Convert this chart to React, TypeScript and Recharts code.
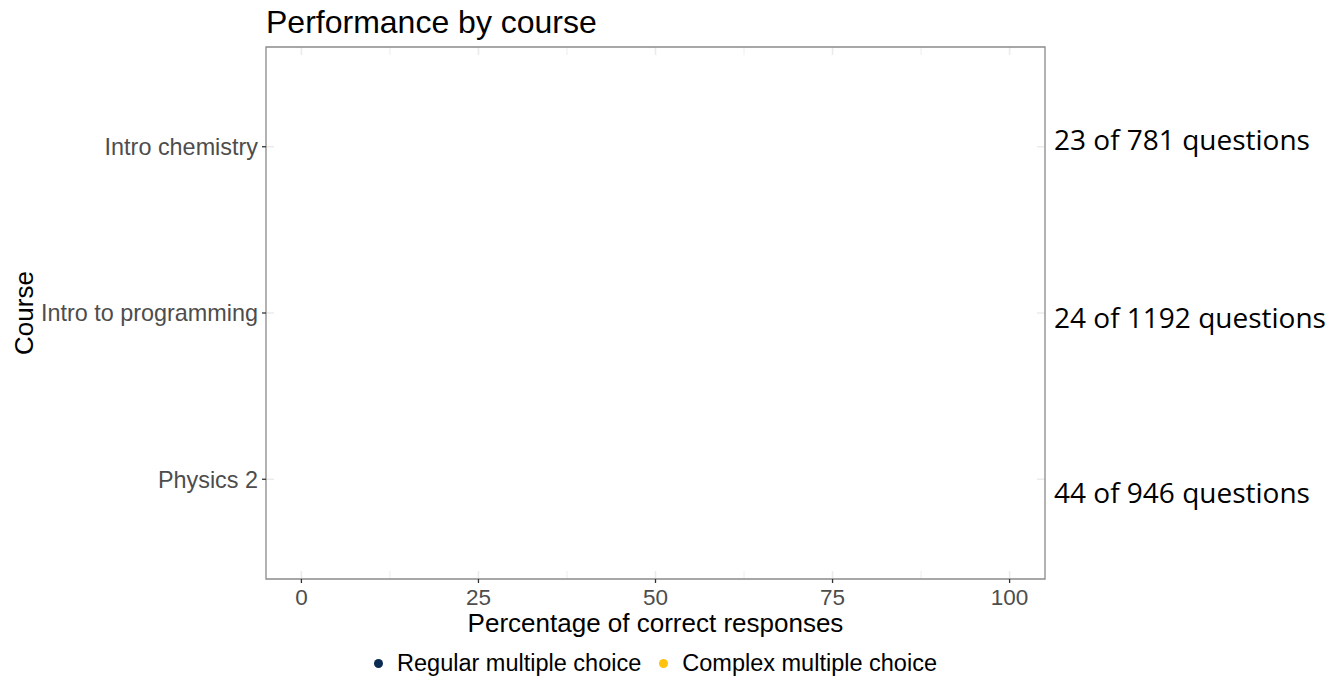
import React from 'react';
import {
  ComposedChart,
  Scatter,
  XAxis,
  YAxis,
  CartesianGrid,
  ReferenceArea,
} from 'recharts';

// courses, top to bottom
const courses = ['Intro chemistry', 'Intro to programming', 'Physics 2'];
const courseIndex = [0, 1, 2];
// questions per course shown on the right
const complexCounts = [23, 24, 44];
const totalCounts = [781, 1192, 946];
// percentage ticks
const xTicks = [0, 25, 50, 75, 100];
const xMinorTicks = [12.5, 37.5, 62.5, 87.5];
// no points are drawn in the source figure
const regularPoints: { pct: number; course: number }[] = [];
const complexPoints: { pct: number; course: number }[] = [];

const legendItems = [
  { name: 'Regular multiple choice', color: '#0c2b52' },
  { name: 'Complex multiple choice', color: '#ffc20e' },
];

const W = 1329;
const H = 687;
const SANS = '"Liberation Sans", Arial, sans-serif';
const X_DOMAIN: [number, number] = [-5, 105];
const Y_DOMAIN: [number, number] = [-0.6, 2.6];
// inner white panel leaves only short grid stubs at the panel edges
const INSET_X = 1.13;
const INSET_Y = 0.048;
const RIGHT_LABEL_DY = [-7, 5, 14];

const RightLabel = (props: any) => {
  const { x, y, payload } = props;
  const i = payload.value as number;
  return (
    <text
      x={x}
      y={y + RIGHT_LABEL_DY[i]}
      dy="0.36em"
      fontFamily='"Open Sans", sans-serif'
      fontSize={28}
      fill="#000"
    >
      {`${complexCounts[i]} of ${totalCounts[i]} questions`}
    </text>
  );
};

export default function App() {
  return (
    <div style={{ position: 'absolute', left: 0, top: 0, width: W, height: H, background: '#fff' }}>
      <div
        style={{
          position: 'absolute',
          left: 266,
          top: 4,
          fontFamily: SANS,
          fontSize: 32,
          color: '#000',
          whiteSpace: 'nowrap',
        }}
      >
        Performance by course
      </div>

      <ComposedChart
        width={W}
        height={H}
        margin={{ top: 47, right: 0, bottom: 0, left: 0 }}
      >
        <CartesianGrid
          xAxisId="x"
          yAxisId="left"
          stroke="#ebebeb"
          strokeWidth={1.6}
          verticalValues={xTicks}
          horizontalValues={courseIndex}
        />
        <CartesianGrid
          xAxisId="x"
          yAxisId="left"
          stroke="#ebebeb"
          strokeWidth={0.9}
          vertical
          horizontal={false}
          verticalValues={xMinorTicks}
        />
        <ReferenceArea
          xAxisId="x"
          yAxisId="left"
          x1={X_DOMAIN[0] + INSET_X}
          x2={X_DOMAIN[1] - INSET_X}
          y1={Y_DOMAIN[0] + INSET_Y}
          y2={Y_DOMAIN[1] - INSET_Y}
          fill="#fff"
          fillOpacity={1}
          stroke="none"
        />
        <ReferenceArea
          xAxisId="x"
          yAxisId="left"
          x1={X_DOMAIN[0]}
          x2={X_DOMAIN[1]}
          y1={Y_DOMAIN[0]}
          y2={Y_DOMAIN[1]}
          fill="none"
          stroke="#8a8a8a"
          strokeWidth={1.3}
        />
        <XAxis
          xAxisId="x"
          type="number"
          dataKey="pct"
          domain={X_DOMAIN}
          ticks={xTicks}
          allowDataOverflow
          height={108}
          axisLine={false}
          tickLine={{ stroke: '#333', strokeWidth: 1.3 }}
          tickSize={4}
          tickMargin={6}
          tick={{ fill: '#4d4d4d', fontSize: 22.5, fontFamily: SANS }}
          label={(p: any) => {
            const vb = p.viewBox;
            return (
              <text
                x={vb.x + vb.width / 2}
                y={vb.y + 53}
                textAnchor="middle"
                fontFamily={SANS}
                fontSize={26}
                fill="#000"
              >
                Percentage of correct responses
              </text>
            );
          }}
        />
        <YAxis
          yAxisId="left"
          type="number"
          dataKey="course"
          domain={Y_DOMAIN}
          ticks={courseIndex}
          reversed
          allowDataOverflow
          width={266}
          axisLine={false}
          tickLine={{ stroke: '#333', strokeWidth: 1.3 }}
          tickSize={4}
          tickMargin={4}
          tickFormatter={(v: number) => courses[v]}
          tick={{ fill: '#4d4d4d', fontSize: 23.4, fontFamily: SANS }}
          label={(p: any) => {
            const vb = p.viewBox;
            const cy = vb.y + vb.height / 2;
            return (
              <text
                x={24}
                y={cy}
                transform={`rotate(-90, 24, ${cy})`}
                textAnchor="middle"
                dy="0.36em"
                fontFamily={SANS}
                fontSize={26}
                fill="#000"
              >
                Course
              </text>
            );
          }}
        />
        <YAxis
          yAxisId="right"
          orientation="right"
          type="number"
          domain={Y_DOMAIN}
          ticks={courseIndex}
          reversed
          allowDataOverflow
          width={284}
          axisLine={false}
          tickLine={false}
          tickSize={0}
          tickMargin={9}
          tick={<RightLabel />}
        />
        <Scatter
          name={legendItems[0].name}
          xAxisId="x"
          yAxisId="left"
          data={regularPoints}
          fill={legendItems[0].color}
          isAnimationActive={false}
        />
        <Scatter
          name={legendItems[1].name}
          xAxisId="x"
          yAxisId="left"
          data={complexPoints}
          fill={legendItems[1].color}
          isAnimationActive={false}
        />
      </ComposedChart>

      <div
        style={{
          position: 'absolute',
          left: 0,
          top: 650,
          width: 1311,
          display: 'flex',
          justifyContent: 'center',
          fontFamily: SANS,
          fontSize: 23.5,
          color: '#000',
        }}
      >
        {legendItems.map((item) => (
          <div key={item.name} style={{ display: 'flex', alignItems: 'center', margin: '0 9px' }}>
            <span
              style={{
                display: 'inline-block',
                width: 9,
                height: 9,
                borderRadius: '50%',
                background: item.color,
                marginRight: 14,
              }}
            />
            <span>{item.name}</span>
          </div>
        ))}
      </div>
    </div>
  );
}
